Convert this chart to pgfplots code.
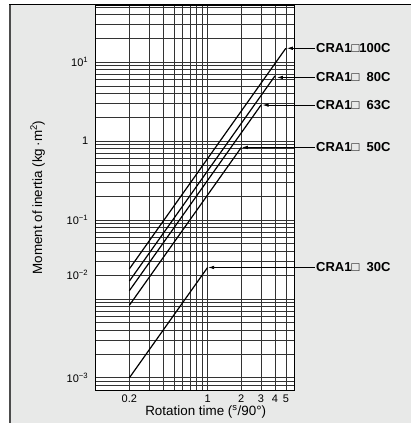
\documentclass[border=0pt]{standalone}
\usepackage{pgfplots}
\pgfplotsset{compat=1.18}
\usepackage{fontspec}
\setmainfont{Liberation Sans}
\usetikzlibrary{arrows.meta,calc}
\definecolor{panel}{RGB}{232,233,232}

\newcommand{\lbl}[1]{\fontsize{13}{15}\selectfont\bfseries CRA1□#1C}

\begin{document}
\begin{tikzpicture}
\useasboundingbox (-95.7pt,-33pt) rectangle (315.3pt,390pt);
% grey panel behind the chart
\fill[panel] (-85.7pt,-33pt) rectangle (315.3pt,385pt);
\draw[black!70, line width=1.5pt] (-85.7pt,-33pt) -- (-85.7pt,385pt);
\draw[black, line width=1pt] (-86.4pt,385pt) -- (315.3pt,385pt);
\begin{axis}[
  scale only axis, width=199pt, height=385pt,
  xmode=log, ymode=log,
  xmin=0.1, xmax=6, ymin=7e-4, ymax=53,
  clip=false,
  axis background/.style={fill=white},
  axis line style={black, line width=0.9pt},
  grid=both,
  major grid style={black!80, line width=0.6pt},
  minor grid style={black!80, line width=0.6pt},
  major tick length=0pt, minor tick length=0pt,
  xtick={0.2,1,2,3,4,5}, xticklabels={0.2,1,2,3,4,5},
  minor xtick={0.3,0.4,0.5,0.6,0.7,0.8,0.9},
  ytick={1e-3,0.02,0.1,1,10},
  yticklabels={10\textsuperscript{−3},10\textsuperscript{−2},10\textsuperscript{−1},1,10\textsuperscript{1}},
  minor ytick={8e-4,9e-4,2e-3,3e-3,4e-3,5e-3,6e-3,7e-3,8e-3,9e-3,0.01,
    0.03,0.04,0.05,0.06,0.07,0.08,0.09,0.2,0.3,0.4,0.5,0.6,0.7,0.8,0.9,
    2,3,4,5,6,7,8,9,20,30,40,50},
  ticklabel style={font=\fontsize{11}{13}\selectfont},
  yticklabel style={xshift=-4pt},
  xticklabel style={yshift=-1pt},
  xlabel={Rotation time (\textsuperscript{s}/90°)},
  ylabel={Moment of inertia (kg\,·m\textsuperscript{2})},
  label style={font=\fontsize{13.4}{15}\selectfont},
  xlabel style={xshift=10.5pt, yshift=4pt},
  ylabel style={yshift=15pt},
]
\addplot[black, line width=1.2pt] coordinates {(0.2,0.024) (5,15)};
\addplot[black, line width=1.2pt] coordinates {(0.2,0.0168) (4,6.7)};
\addplot[black, line width=1.2pt] coordinates {(0.2,0.0127) (3,2.86)};
\addplot[black, line width=1.2pt] coordinates {(0.2,0.0083) (2,0.83)};
\addplot[black, line width=1.2pt] coordinates {(0.2,0.001) (1,0.025)};

\coordinate (R) at (rel axis cs:1,0);
\coordinate (t1) at (axis cs:5,15);
\coordinate (t2) at (axis cs:4,6.4);
\coordinate (t3) at (axis cs:3,2.86);
\coordinate (t4) at (axis cs:2,0.83);
\coordinate (t5) at (axis cs:1,0.025);
\end{axis}
% pointers from the curve ends to their names
\begin{scope}[black, line width=0.8pt]
\draw[{Latex[length=6pt,width=3.6pt]}-] ([xshift=1pt]t1) -- ($(R |- t1) + (20.3pt,0pt)$) node[anchor=west, inner sep=0.8pt] {\lbl{100}};
\draw[{Latex[length=6pt,width=3.6pt]}-] ([xshift=2pt]t2) -- ($(R |- t2) + (20.3pt,0pt)$) node[anchor=west, inner sep=0.8pt] {\lbl{\hphantom{1}80}};
\draw[{Latex[length=6pt,width=3.6pt]}-] ([xshift=1.5pt]t3) -- ($(R |- t3) + (20.3pt,0pt)$) node[anchor=west, inner sep=0.8pt] {\lbl{\hphantom{1}63}};
\draw[{Latex[length=6pt,width=3.6pt]}-] ([xshift=0.5pt]t4) -- ($(R |- t4) + (20.3pt,0pt)$) node[anchor=west, inner sep=0.8pt] {\lbl{\hphantom{1}50}};
\draw[{Latex[length=6pt,width=3.6pt]}-] ([xshift=0.5pt]t5) -- ($(R |- t5) + (20.3pt,0pt)$) node[anchor=west, inner sep=0.8pt] {\lbl{\hphantom{1}30}};
\end{scope}
\end{tikzpicture}
\end{document}
